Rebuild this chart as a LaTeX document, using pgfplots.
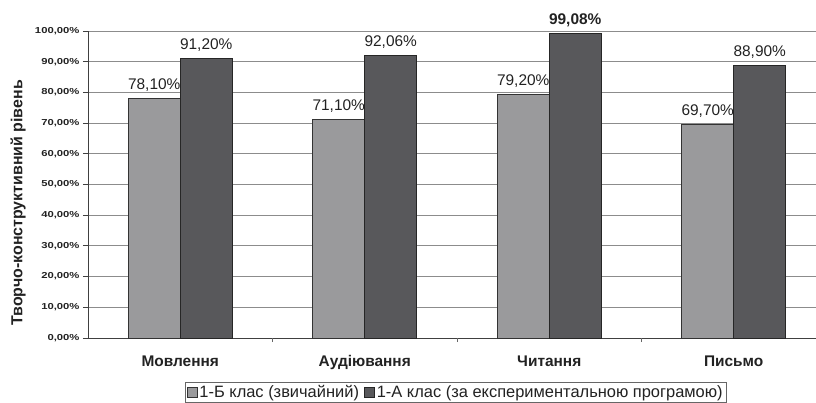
\documentclass[border=0pt]{standalone}
\usepackage{pgfplots}
\pgfplotsset{compat=1.18}
\usepackage{fontspec}
\setmainfont{Liberation Sans}
\newfontfamily\tickfont[FakeStretch=1.3]{Liberation Sans}
\definecolor{barA}{HTML}{9A9A9C}
\definecolor{barB}{HTML}{58585B}
\definecolor{txt}{HTML}{222222}
\begin{document}
\begin{tikzpicture}
\begin{axis}[
  scale only axis, width=728bp, height=307bp,
  xmin=-0.5, xmax=3.446, ymin=0, ymax=100,
  axis x line*=bottom, axis y line*=left,
  axis line style={line width=0.8bp, color=black!75},
  ybar=0pt, bar width=52bp,
  clip=false,
  ytick={0,10,...,100},
  yticklabels={{0,00\%},{10,00\%},{20,00\%},{30,00\%},{40,00\%},{50,00\%},{60,00\%},{70,00\%},{80,00\%},{90,00\%},{100,00\%}},
  yticklabel style={font=\tickfont\bfseries\fontsize{8.7}{10}\selectfont, color=txt},
  ytick style={color=black!75, line width=0.8bp},
  tick align=outside, major tick length=5bp,
  ymajorgrids, grid style={color=black!45, line width=0.8bp},
  xtick={0,1,2,3},
  xticklabels={Мовлення,Аудіювання,Читання,Письмо},
  x tick style={draw=none},
  xticklabel style={font=\bfseries\fontsize{15.5}{17}\selectfont, color=txt, yshift=-9bp},
  extra x ticks={0.5,1.5,2.5},
  extra x tick labels={},
  extra x tick style={x tick style={draw=black!60, line width=0.8bp}, major tick length=4bp, grid=none},
  ylabel={Творчо-конструктивний рівень},
  ylabel style={font=\bfseries\fontsize{16}{18}\selectfont, color=txt, at={(axis description cs:-0.096,0.44)}, anchor=center, rotate=0},
  point meta=explicit symbolic,
  nodes near coords,
  every node near coord/.append style={font=\fontsize{15.5}{17}\selectfont, color=txt, inner sep=2bp, yshift=4.5bp},
  legend style={at={(axis description cs:0.505,-0.176)}, anchor=center, legend columns=2,
     draw=black!60, font=\fontsize{16.5}{18}\selectfont, text=txt, inner sep=1.2bp,
     /tikz/every even column/.append style={column sep=3bp}},
  legend image code/.code={\draw[#1] (0bp,-5bp) rectangle (10bp,5bp);},
]
\addplot[fill=barA, draw=black!80, line width=0.8bp] coordinates {
  (0,78.10) [78,10\%]
  (1,71.10) [71,10\%]
  (2,79.20) [79,20\%]
  (3,69.70) [69,70\%]
};
\addplot[fill=barB, draw=black!85, line width=0.8bp] coordinates {
  (0,91.20) [91,20\%]
  (1,92.06) [92,06\%]
  (2,99.08) [\textbf{99,08\%}]
  (3,88.90) [88,90\%]
};
\legend{1-Б клас (звичайний),1-А клас (за експериментальною програмою)}
\end{axis}
\pgfresetboundingbox
\path (-88bp,-65bp) rectangle (728bp,338bp);
\end{tikzpicture}
\end{document}
